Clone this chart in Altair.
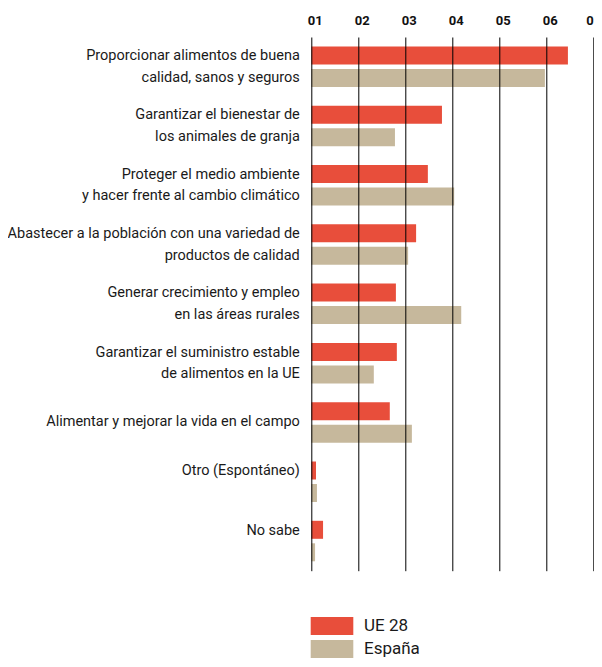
import json
import altair as alt
import pandas as pd

categories = [
    "Proporcionar alimentos de buena\ncalidad, sanos y seguros",
    "Garantizar el bienestar de\nlos animales de granja",
    "Proteger el medio ambiente\ny hacer frente al cambio climático",
    "Abastecer a la población con una variedad de\nproductos de calidad",
    "Generar crecimiento y empleo\nen las áreas rurales",
    "Garantizar el suministro estable\nde alimentos  en la UE",
    "Alimentar y mejorar la vida en el campo",
    "Otro (Espontáneo)",
    "No sabe",
]
series = ["UE 28", "España"]
ue28 = [54.6, 27.8, 24.8, 22.3, 18.0, 18.2, 16.7, 1.0, 2.5]
espana = [49.7, 17.8, 30.4, 20.6, 31.9, 13.3, 21.4, 1.2, 0.8]
tick_values = [0, 10, 20, 30, 40, 50, 60]
tick_labels = ["01", "02", "03", "04", "05", "06", "0"]
colors = ["#E84E3B", "#C6B89C"]

rows = []
for c, a, b in zip(categories, ue28, espana):
    rows.append({"cat": c, "serie": series[0], "v": a})
    rows.append({"cat": c, "serie": series[1], "v": b})
df = pd.DataFrame(rows)

FONT = "Roboto"

label_expr = json.dumps(tick_labels) + "[round(datum.value / 10)]"

chart = (
    alt.Chart(df)
    .mark_bar()
    .encode(
        x=alt.X(
            "v:Q",
            scale=alt.Scale(domain=[0, 60.15], nice=False, zero=True),
            axis=alt.Axis(
                orient="top",
                values=tick_values,
                labelExpr=label_expr,
                title=None,
                domain=False,
                ticks=False,
                grid=True,
                gridColor="#000000",
                gridWidth=1,
                gridOpacity=1,
                labelFont=FONT,
                labelFontSize=13,
                labelFontWeight="bold",
                labelColor="#111111",
                labelAlign={"condition": {"test": "datum.value == 60", "value": "right"}, "value": "center"},
                labelOffset={"condition": {"test": "datum.value == 60", "value": 0}, "value": 3.5},
                labelBaseline="alphabetic",
                labelPadding=12.5,
                labelBound=False,
                labelOverlap=False,
                zindex=1,
            ),
        ),
        y=alt.Y(
            "cat:N",
            sort=categories,
            scale=alt.Scale(range=[0, 533.7], paddingInner=0, paddingOuter=0),
            axis=alt.Axis(
                title=None,
                domain=False,
                ticks=False,
                grid=False,
                labelExpr="split(datum.label, '\\n')",
                labelFont=FONT,
                labelFontSize=14.5,
                labelLineHeight=21.7,
                labelColor="#1a1a1a",
                labelPadding=12,
                labelLimit=400,
                labelOffset={
                    "condition": {"test": "datum.value == '" + categories[6] + "'", "value": 0},
                    "value": -10.5,
                },
            ),
        ),
        yOffset=alt.YOffset(
            "serie:N",
            sort=series,
            scale=alt.Scale(paddingInner=0.2, paddingOuter=0.418),
        ),
        color=alt.Color(
            "serie:N",
            sort=series,
            scale=alt.Scale(domain=series, range=colors),
            legend=alt.Legend(
                title=None,
                orient="none",
                legendX=7.2,
                legendY=575.5,
                direction="vertical",
                symbolType="M-1.578,-0.667L1.578,-0.667L1.578,0.667L-1.578,0.667Z",
                symbolSize=729,
                symbolStrokeWidth=0,
                symbolOpacity=1,
                labelFont=FONT,
                labelFontSize=17,
                labelColor="#1a1a1a",
                labelOffset=18.5,
                rowPadding=0,
                padding=0,
            ),
        ),
    )
    .properties(
        width=282.7,
        height=530,
        autosize=alt.AutoSizeParams(type="none"),
        padding={"left": 303.3, "top": 29, "right": 0, "bottom": 92},
    )
    .configure_view(stroke=None)
)

chart.save("out.html", embed_options={"renderer": "svg", "actions": False})
